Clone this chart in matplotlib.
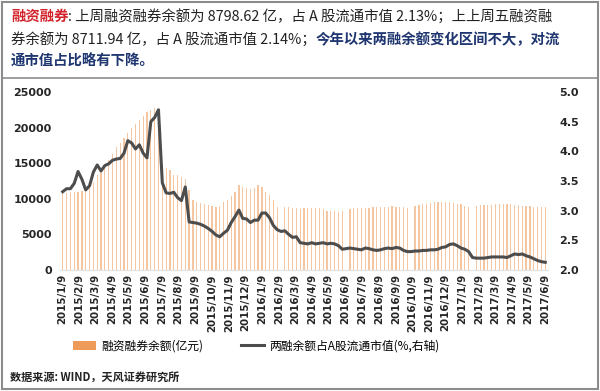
import matplotlib
matplotlib.use("Agg")
import matplotlib.pyplot as plt
import matplotlib.dates as mdates
from matplotlib.patches import Patch, Rectangle
from matplotlib.lines import Line2D
import numpy as np
import pandas as pd

plt.rcParams['font.family'] = ['Noto Sans CJK SC', 'DejaVu Sans']

# ---------------- data ----------------
start_date = "2015-01-09"
n_weeks = 127
balance = [
    10770, 10850, 10900, 10950, 11000, 11050, 11100,
    11500, 12300, 13300, 14000, 14750, 15500, 16300, 17300, 17900, 18500, 19200,
    19900, 20500, 21000, 21600, 22200, 22500, 22700, 22400,
    14500, 14300, 14000, 13300, 13400, 13000, 12800, 11200,
    9800, 9600, 9400, 9200, 9100, 9000, 8900, 9000,
    9500, 9830, 10400, 11000, 11900, 11700, 11500, 11400,
    11500, 11900, 11600, 11000, 10500, 9800, 8900,
    np.nan,
    8900, 8800, 8700, 8650, 8600,
    8650, 8660, 8700, 8750, 8700, 8500, 8300, 8290, 8250, 8200, 8250,
    np.nan,
    8600, 8650, 8700, 8750, 8750, 8700, 8800, 8900, 8900, 8850, 8900, 8950,
    8900, 8850, 8800, 8750,
    np.nan,
    9000, 9100, 9200, 9300, 9450, 9550, 9600, 9600, 9550, 9500, 9400, 9300,
    9200, 9000, 8800,
    np.nan,
    9050, 9100, 9100, 9150, 9150, 9200, 9200, 9250, 9200, 9200, 9150, 9100,
    9050, 9000, 8950, 8900, 8850, 8800, 8800,
]
ratio = [
    3.32, 3.37, 3.37, 3.46, 3.66, 3.53, 3.35, 3.42, 3.65, 3.77,
    3.67, 3.76, 3.79, 3.85, 3.87, 3.88, 3.97, 4.18, 4.14, 4.04,
    4.11, 3.97, 3.89, 4.50, 4.57, 4.70, 3.47, 3.30, 3.29, 3.31,
    3.22, 3.17, 3.40, 2.81, 2.80, 2.79, 2.77, 2.74, 2.70, 2.65,
    2.59, 2.56, 2.62, 2.67, 2.80, 2.90, 3.01, 2.87, 2.86, 2.80,
    2.84, 2.84, 2.96, 2.96, 2.88, 2.75, 2.68, 2.65, 2.66, 2.60,
    2.55, 2.56, 2.46, 2.45, 2.44, 2.46, 2.44, 2.45, 2.46, 2.44,
    2.45, 2.44, 2.41, 2.35, 2.36, 2.37, 2.36, 2.35, 2.34, 2.37,
    2.36, 2.34, 2.33, 2.34, 2.36, 2.37, 2.36, 2.38, 2.37, 2.33,
    2.31, 2.31, 2.32, 2.32, 2.33, 2.33, 2.34, 2.34, 2.35, 2.38,
    2.39, 2.43, 2.44, 2.41, 2.37, 2.35, 2.31, 2.21, 2.20, 2.20,
    2.20, 2.21, 2.22, 2.22, 2.22, 2.22, 2.21, 2.24, 2.27, 2.26,
    2.27, 2.24, 2.22, 2.19, 2.16, 2.14, 2.13,
]
tick_labels = ["2015/1/9", "2015/2/9", "2015/3/9", "2015/4/9", "2015/5/9", "2015/6/9",
               "2015/7/9", "2015/8/9", "2015/9/9", "2015/10/9", "2015/11/9", "2015/12/9",
               "2016/1/9", "2016/2/9", "2016/3/9", "2016/4/9", "2016/5/9", "2016/6/9",
               "2016/7/9", "2016/8/9", "2016/9/9", "2016/10/9", "2016/11/9", "2016/12/9",
               "2017/1/9", "2017/2/9", "2017/3/9", "2017/4/9", "2017/5/9", "2017/6/9"]
legend_bar = "融资融券余额(亿元)"
legend_line = "两融余额占A股流通市值(%,右轴)"
source_text = "数据来源: WIND，天风证券研究所"

header_lines = [
    [("融资融券", "#d2232a", "bold"), (": 上周融资融券余额为 8798.62 亿，占 A 股流通市值 2.13%；上上周五融资融", "#222222", "normal")],
    [("券余额为 8711.94 亿，占 A 股流通市值 2.14%；", "#222222", "normal"),
     ("今年以来两融余额变化区间不大，对流", "#1f3670", "bold")],
    [("通市值占比略有下降。", "#1f3670", "bold")],
]

dates = pd.date_range(start_date, periods=n_weeks, freq="7D")
tick_dates = pd.to_datetime(tick_labels, format="%Y/%m/%d")

# ---------------- figure ----------------
W, H = 600, 391
fig = plt.figure(figsize=(6.0, 3.91), dpi=100)
fig.patch.set_facecolor("white")

# outer frame & header separator
fig.add_artist(Rectangle((2 / W, 2 / H), 1 - 4 / W, 1 - 4 / H, transform=fig.transFigure,
                         fill=False, edgecolor="#8c8c8c", linewidth=1.5))
fig.add_artist(Line2D([2 / W, 1 - 2 / W], [1 - 78 / H, 1 - 78 / H], transform=fig.transFigure,
                      color="#8c8c8c", linewidth=1.2))

renderer = fig.canvas.get_renderer()
line_y = [17, 40, 62]
for li, segs in enumerate(header_lines):
    xpix = 11
    for txt, col, wt in segs:
        t = fig.text(xpix / W, 1 - line_y[li] / H, txt, color=col, fontweight=wt,
                     fontsize=10.4, va="center", ha="left")
        bb = t.get_window_extent(renderer=renderer)
        xpix += bb.width

ax = fig.add_axes([60 / W, 1 - 270 / H, (548 - 60) / W, (270 - 92) / H])
ax2 = ax.twinx()

ax.bar(dates, balance, width=2.3, color="#f5c6a2", linewidth=0, zorder=1)
ax2.plot(dates, ratio, color="#4d4d4d", linewidth=2.2, zorder=3)

ax.set_ylim(0, 25000)
ax.set_yticks(np.arange(0, 25001, 5000))
ax2.set_ylim(2.0, 5.0)
ax2.set_yticks(np.arange(2.0, 5.01, 0.5))
ax2.set_yticklabels([f"{v:.1f}" for v in np.arange(2.0, 5.01, 0.5)])
ax.set_xlim(dates[0] - pd.Timedelta(days=5), dates[-1] + pd.Timedelta(days=5))
ax.set_xticks(tick_dates)
ax.set_xticklabels(tick_labels, rotation=90, fontsize=7.4, fontweight="bold",
                   color="#262626", family=["DejaVu Sans"])

for a in (ax, ax2):
    for s in ("top", "left", "right"):
        a.spines[s].set_visible(False)
    a.spines["bottom"].set_color("#e3e3e3")
    a.tick_params(length=0)
ax.tick_params(axis="y", labelsize=8, labelcolor="#262626", pad=6)
ax2.tick_params(axis="y", labelsize=8, labelcolor="#262626", pad=8)
for lab in ax.get_yticklabels() + ax2.get_yticklabels():
    lab.set_fontweight("bold")
    lab.set_family(["DejaVu Sans"])
ax.tick_params(axis="x", pad=3)
ax.set_zorder(ax2.get_zorder() - 1)
ax2.patch.set_visible(False)

handles = [Patch(facecolor="#ee9a58", edgecolor="none"),
           Line2D([0], [0], color="#4d4d4d", linewidth=2.2)]
fig.legend(handles, [legend_bar, legend_line], loc="center", ncol=2,
           bbox_to_anchor=(256 / W, 1 - 346 / H), frameon=False, fontsize=8.5,
           handlelength=2.0, handleheight=0.7, columnspacing=3.2, handletextpad=0.4)

fig.text(10 / W, 1 - 377 / H, source_text, fontsize=8, fontweight="bold", style="italic",
         color="#222222", va="center", ha="left")

fig.savefig("out.png", dpi=100, facecolor="white")
